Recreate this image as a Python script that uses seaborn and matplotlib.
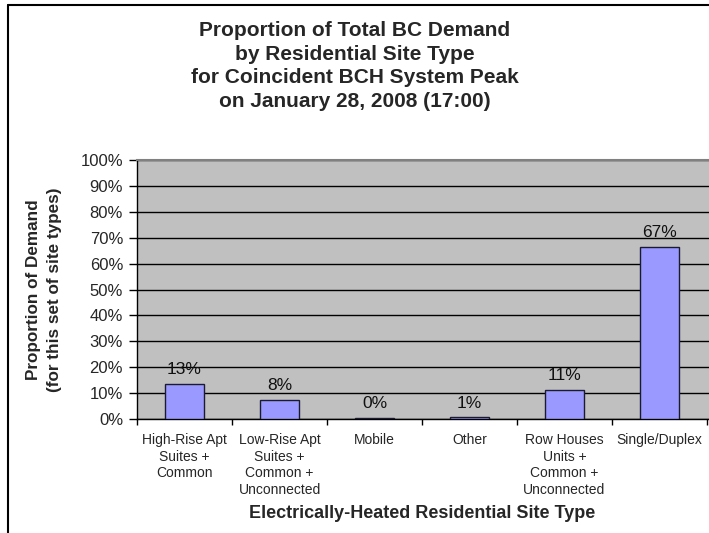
import seaborn as sns
import matplotlib.pyplot as plt
from matplotlib.lines import Line2D
import pandas as pd

# Data
site_types = ['High-Rise Apt\nSuites +\nCommon',
              'Low-Rise Apt\nSuites +\nCommon +\nUnconnected',
              'Mobile',
              'Other',
              'Row Houses\nUnits +\nCommon +\nUnconnected',
              'Single/Duplex']
proportion = [13.5, 7.5, 0.4, 0.6, 11.1, 66.6]
value_labels = ['13%', '8%', '0%', '1%', '11%', '67%']
y_ticks = [0, 10, 20, 30, 40, 50, 60, 70, 80, 90, 100]
y_tick_labels = ['%d%%' % v for v in y_ticks]

sns.set_style('white')
plt.rcParams['font.family'] = ['Liberation Sans', 'DejaVu Sans']

data = pd.DataFrame({'site': site_types, 'share': proportion})

fig = plt.figure(figsize=(7.09, 5.33), dpi=100)
ax = fig.add_axes([137 / 709, 1 - 419 / 533, 572 / 709, 259 / 533])
ax.set_facecolor('#C0C0C0')

sns.barplot(data=data, x='site', y='share', color='#9999FF', saturation=1,
            width=0.42, edgecolor='#1a1a33', linewidth=1, ax=ax, zorder=3)

# Value labels above the bars
ax.bar_label(ax.containers[0], labels=value_labels, padding=5, fontsize=12.5,
             color='#111111')

# plot area is cut off at the right edge of the picture
ax.set_xlim(-0.5, 5.5 + 2 / 95)
ax.set_ylim(0, 100)
ax.set_yticks(y_ticks)
ax.set_yticklabels(y_tick_labels, fontsize=12)
ax.yaxis.grid(True, color='black', linewidth=1, zorder=1)
ax.set_axisbelow(True)

# x ticks sit between categories, labels under the bars
ax.set_xticks(range(len(site_types)))
ax.set_xticklabels(site_types, fontsize=10, linespacing=1.25)
ax.set_xticks([i - 0.5 for i in range(len(site_types) + 1)], minor=True)
ax.tick_params(axis='x', which='major', length=0, pad=10)
ax.tick_params(axis='x', which='minor', length=4, width=1, color='black',
               direction='out', bottom=True)
ax.tick_params(axis='y', length=6, width=1, color='black', direction='out',
               left=True, pad=4)
ax.set_xlabel('')
ax.set_ylabel('')

for side in ['left', 'bottom']:
    ax.spines[side].set_color('black')
    ax.spines[side].set_linewidth(1)
ax.spines['top'].set_color('#808080')
ax.spines['top'].set_linewidth(1.5)
ax.spines['right'].set_visible(False)

fig.text(355 / 709, 1 - 66 / 533,
         'Proportion of Total BC Demand\nby Residential Site Type\n'
         'for Coincident BCH System Peak\non January 28, 2008 (17:00)',
         ha='center', va='center', fontsize=15, fontweight='bold',
         linespacing=1.3)
fig.text(44 / 709, 1 - 290 / 533,
         'Proportion of Demand\n(for this set of site types)',
         ha='center', va='center', rotation=90, fontsize=12.3,
         fontweight='bold', linespacing=1.5)
fig.text(422 / 709, 1 - 514 / 533, 'Electrically-Heated Residential Site Type',
         ha='center', va='center', fontsize=13, fontweight='bold')

# Chart frame (cropped at right and bottom in the reference)
fig.add_artist(Line2D([8 / 709, 8 / 709], [0, 1 - 5 / 533],
                      transform=fig.transFigure, color='black', linewidth=1.5))
fig.add_artist(Line2D([8 / 709, 1], [1 - 5 / 533, 1 - 5 / 533],
                      transform=fig.transFigure, color='black', linewidth=1.5))

fig.savefig('out.png', dpi=100)
